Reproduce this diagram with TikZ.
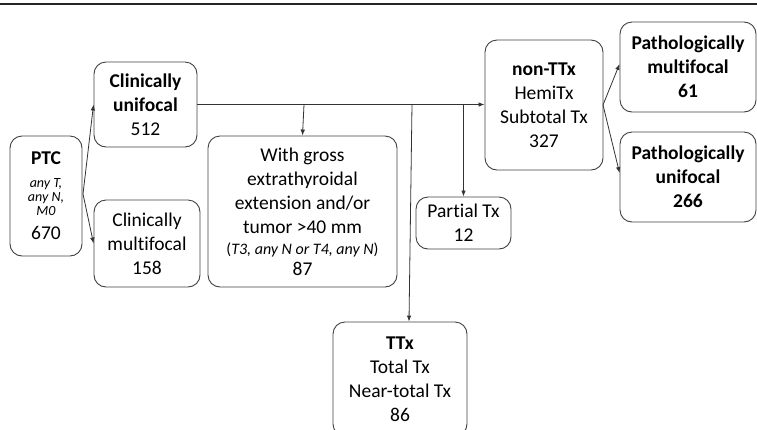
\documentclass[tikz,border=0pt]{standalone}
\usepackage{fontspec}
\setmainfont{Carlito}[Ligatures=NoCommon]
\usetikzlibrary{arrows.meta}
\begin{document}
\begin{tikzpicture}[x=1pt,y=1pt,
  box/.style={draw=black!75, line width=0.9pt, rounded corners=12pt, align=center,
    inner sep=0pt, font=\fontsize{19.5}{24}\selectfont, text=black},
  conn/.style={draw=black!80, line width=0.8pt},
  arr/.style={conn, -{Latex[length=6pt,width=4.5pt]}}]
\useasboundingbox (0,0) rectangle (757,-429);
\clip (0,0) rectangle (757,-429);
\draw[black!85, line width=1.3pt] (0,-4) -- (757,-4);

\node[box, minimum width=72pt, minimum height=120pt] (ptc) at (46,-196)
  {\textbf{PTC}\\[-1pt]{\fontsize{14}{15}\selectfont\itshape any T,}\\[-10pt]{\fontsize{14}{15}\selectfont\itshape any N,}\\[-10pt]{\fontsize{14}{15}\selectfont\itshape M0}\\670};
\node[box, minimum width=103pt, minimum height=85pt] (cu) at (145.5,-104.5)
  {\textbf{Clinically}\\\textbf{unifocal}\\512};
\node[box, minimum width=106pt, minimum height=87pt] (cm) at (147,-243.5)
  {Clinically\\multifocal\\158};
\node[box, minimum width=189pt, minimum height=151pt] (gross) at (302.5,-211.5)
  {With gross\\extrathyroidal\\extension and/or\\tumor >40 mm\\[-3pt]{\fontsize{16}{18}\selectfont(\textit{T3, any N or T4, any N})}\\[-3pt]87};
\node[box, minimum width=118pt, minimum height=130pt] (ntt) at (544,-105)
  {\textbf{non-TTx}\\HemiTx\\Subtotal Tx\\327};
\node[box, minimum width=95pt, minimum height=52pt] (part) at (463.5,-223)
  {Partial Tx\\12};
\node[box, minimum width=134pt, minimum height=114pt] (ttx) at (400,-379)
  {\textbf{TTx}\\Total Tx\\Near-total Tx\\86};
\node[box, minimum width=136pt, minimum height=90pt] (pm) at (688,-67)
  {\textbf{Pathologically}\\\textbf{multifocal}\\\textbf{61}};
\node[box, minimum width=136pt, minimum height=90pt] (pu) at (688,-177)
  {\textbf{Pathologically}\\\textbf{unifocal}\\\textbf{266}};

\coordinate (b1) at (304,-104.5);
\coordinate (b2) at (412,-104.5);
\coordinate (b3) at (463.5,-104.5);
\coordinate (ptco) at (83,-194);
\coordinate (ntto) at (603,-105);

\draw[arr] (ptco) -- (cu.west);
\draw[arr] (ptco) -- (cm.west);
\draw[arr] (cu.east) -- (ntt.west |- cu.east);
\draw[arr] (b1) -- (gross.north);
\draw[arr] (b2) -- ([xshift=-3pt]ttx.north -| b2);
\draw[arr] (b3) -- (part.north);
\draw[arr] (ntto) -- ([yshift=3pt]pm.west);
\draw[arr] (ntto) -- ([yshift=4pt]pu.west);
\end{tikzpicture}
\end{document}
